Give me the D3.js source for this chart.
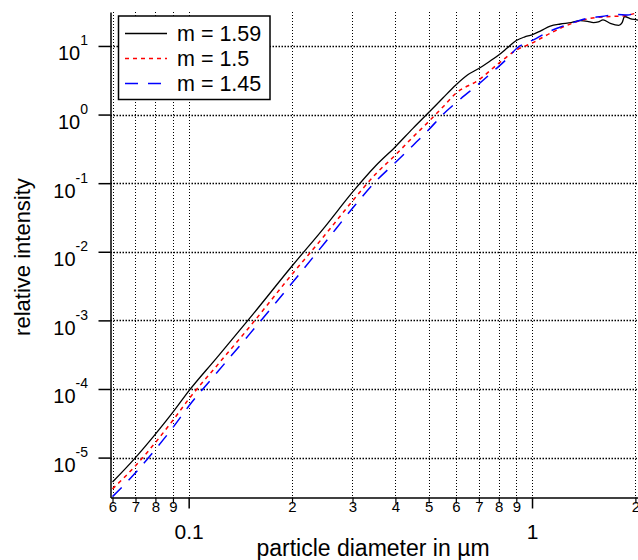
<!DOCTYPE html>
<html lang="en">
<head>
<meta charset="UTF-8">
<title>Relative intensity vs particle diameter</title>
<style>
    body {
        margin: 0;
        padding: 0;
        background: #fff;
    }
    svg {
        display: block;
        font-family: Arial, "Liberation Sans", sans-serif;
    }
</style>
</head>
<body>
<div id="chart"></div>
<script src="https://d3js.org/d3.v7.min.js"></script>
<script>
    // particle diameter (um) and relative intensity
    const diam159 = [0.06, 0.07, 0.08, 0.09, 0.1, 0.12, 0.15, 0.2, 0.25, 0.3, 0.35, 0.4, 0.45, 0.5, 0.55, 0.6, 0.65, 0.7, 0.75, 0.8, 0.85, 0.9, 0.95, 1.0, 1.06, 1.13, 1.21, 1.3, 1.38, 1.45, 1.51, 1.56, 1.61, 1.69, 1.79, 1.83, 1.86, 1.93, 2.02, 2.07];
    const int159 = [4.4e-6, 1.0e-5, 2.2e-5, 4.6e-5, 9.3e-5, 2.75e-4, 1.05e-3, 6.2e-3, 2.35e-2, 7.4e-2, 0.178, 0.34, 0.63, 1.07, 1.74, 2.7, 3.8, 4.7, 5.9, 7.4, 9.5, 12.0, 13.5, 14.5, 16.6, 19.5, 20.9, 21.9, 23.4, 22.9, 21.9, 22.4, 24.0, 21.4, 20.0, 21.9, 26.9, 25.1, 24.0, 23.4];

    const diam150 = [0.06, 0.07, 0.08, 0.09, 0.1, 0.12, 0.15, 0.2, 0.25, 0.3, 0.35, 0.4, 0.45, 0.5, 0.55, 0.6, 0.7, 0.8, 0.9, 1.0, 1.13, 1.31, 1.47, 1.65, 1.84, 2.07];
    const int150 = [3.5e-6, 7.6e-6, 1.66e-5, 3.5e-5, 7.1e-5, 2.1e-4, 7.9e-4, 4.7e-3, 1.78e-2, 5.5e-2, 0.135, 0.257, 0.47, 0.79, 1.29, 2.04, 3.2, 5.6, 8.7, 11.0, 15.3, 21.4, 25.1, 26.7, 27.4, 31.6];

    const diam145 = [0.06, 0.07, 0.08, 0.09, 0.1, 0.12, 0.15, 0.2, 0.25, 0.3, 0.35, 0.4, 0.45, 0.5, 0.55, 0.62, 0.7, 0.78, 0.84, 0.9, 1.03, 1.1, 1.2, 1.3, 1.44, 1.6, 1.76, 1.9, 2.0, 2.07];
    const int145 = [2.7e-6, 6.0e-6, 1.32e-5, 2.75e-5, 5.6e-5, 1.66e-4, 6.2e-4, 3.5e-3, 1.38e-2, 4.3e-2, 0.105, 0.2, 0.355, 0.6, 1.0, 1.7, 2.8, 4.5, 6.3, 9.1, 12.9, 15.5, 18.6, 21.4, 25.1, 26.9, 28.8, 28.2, 30.9, 33.9];

    const seriesNames = ['m = 1.59', 'm = 1.5', 'm = 1.45'];
    const seriesColors = ['#000000', '#ff0000', '#0000ff'];
    const seriesDash = ['none', '4,4', '13,10'];

    // axis ticks
    const xMinorTicks = [0.06, 0.07, 0.08, 0.09, 0.2, 0.3, 0.4, 0.5, 0.6, 0.7, 0.8, 0.9, 2];
    const xMinorLabels = ['6', '7', '8', '9', '2', '3', '4', '5', '6', '7', '8', '9', '2'];
    const xMajorTicks = [0.1, 1];
    const xMajorLabels = ['0.1', '1'];
    const yTicks = [1e-5, 1e-4, 1e-3, 1e-2, 1e-1, 1e0, 1e1];
    const yExponents = ['-5', '-4', '-3', '-2', '-1', '0', '1'];

    const width = 638, height = 560;
    const plot = { left: 110.5, right: 640, top: 12, bottom: 497.5 };
    const font = 'Arial, "Liberation Sans", sans-serif';

    const svg = d3.select('#chart').append('svg')
        .attr('width', width)
        .attr('height', height);

    const x = d3.scaleLog()
        .domain([0.0592, 2.063])
        .range([plot.left, plot.right]);

    const y = d3.scaleLog()
        .domain([2.62e-6, 31.26])
        .range([plot.bottom, plot.top]);

    // snap grid lines to the pixel grid so the dots stay crisp
    const px = v => Math.round(v) + 0.5;

    // dotted grid
    const grid = svg.append('g').attr('class', 'grid');
    grid.selectAll('.vgrid')
        .data(xMinorTicks.concat(xMajorTicks))
        .join('line')
        .attr('class', 'vgrid')
        .attr('x1', d => px(x(d))).attr('x2', d => px(x(d)))
        .attr('y1', plot.top).attr('y2', plot.bottom)
        .attr('stroke', '#000')
        .attr('stroke-width', 1)
        .attr('stroke-dasharray', '1,2');
    grid.selectAll('.hgrid')
        .data(yTicks)
        .join('line')
        .attr('class', 'hgrid')
        .attr('x1', plot.left).attr('x2', plot.right)
        .attr('y1', d => px(y(d))).attr('y2', d => px(y(d)))
        .attr('stroke', '#000')
        .attr('stroke-width', 1.5)
        .attr('stroke-dasharray', '1.5,1.5');

    // curves
    svg.append('clipPath').attr('id', 'clip')
        .append('rect')
        .attr('x', plot.left).attr('y', 0)
        .attr('width', plot.right - plot.left).attr('height', plot.bottom);

    const line = d3.line()
        .x(d => x(d[0]))
        .y(d => y(d[1]))
        .curve(d3.curveMonotoneX);

    const series = [
        d3.zip(diam159, int159),
        d3.zip(diam150, int150),
        d3.zip(diam145, int145)
    ];

    svg.append('g')
        .attr('clip-path', 'url(#clip)')
        .selectAll('path')
        .data(series)
        .join('path')
        .attr('fill', 'none')
        .attr('stroke', (d, i) => seriesColors[i])
        .attr('stroke-width', (d, i) => i === 0 ? 1.3 : 1.5)
        .attr('stroke-dasharray', (d, i) => seriesDash[i])
        .attr('d', line);

    // x axis: minor ticks with small labels, decades with big labels
    const xAxisMinor = svg.append('g')
        .attr('transform', `translate(0,${plot.bottom})`)
        .call(d3.axisBottom(x)
            .tickValues(xMinorTicks)
            .tickSize(6)
            .tickSizeOuter(0)
            .tickPadding(-2)
            .tickFormat((d, i) => xMinorLabels[i]));
    xAxisMinor.select('.domain').attr('stroke-width', 1.5);
    xAxisMinor.selectAll('.tick line').attr('stroke-width', 1.2);
    xAxisMinor.selectAll('.tick text')
        .attr('font-size', 15)
        .attr('font-family', font)
        .attr('fill', '#000');

    const xAxisMajor = svg.append('g')
        .attr('transform', `translate(0,${plot.bottom})`)
        .call(d3.axisBottom(x)
            .tickValues(xMajorTicks)
            .tickSize(11)
            .tickSizeOuter(0)
            .tickPadding(15.5)
            .tickFormat((d, i) => xMajorLabels[i]));
    xAxisMajor.select('.domain').remove();
    xAxisMajor.selectAll('.tick line').attr('stroke-width', 1.5);
    xAxisMajor.selectAll('.tick text')
        .attr('font-size', 21)
        .attr('font-family', font)
        .attr('fill', '#000');

    // y axis with 10^n labels
    const yAxis = svg.append('g')
        .attr('transform', `translate(${plot.left},0)`)
        .call(d3.axisLeft(y)
            .tickValues(yTicks)
            .tickSize(12)
            .tickSizeOuter(0)
            .tickFormat(''));
    yAxis.select('.domain').attr('stroke-width', 1.5);
    yAxis.selectAll('.tick line').attr('stroke-width', 1.5);

    const yLabels = svg.append('g')
        .selectAll('text')
        .data(yTicks)
        .join('text')
        .attr('x', 88)
        .attr('y', d => y(d) + 14.5)
        .attr('text-anchor', 'end')
        .attr('fill', '#000');
    yLabels.append('tspan')
        .attr('font-size', 20)
        .text('10');
    yLabels.append('tspan')
        .attr('font-size', 14)
        .attr('dy', -15)
        .text((d, i) => yExponents[i]);

    // axis titles
    svg.append('text')
        .attr('x', 373)
        .attr('y', 556)
        .attr('text-anchor', 'middle')
        .attr('font-size', 23)
        .text('particle diameter in µm');

    svg.append('text')
        .attr('transform', 'translate(30,257) rotate(-90)')
        .attr('text-anchor', 'middle')
        .attr('font-size', 22)
        .text('relative intensity');

    // legend
    const legend = svg.append('g').attr('class', 'legend');
    legend.append('rect')
        .attr('x', 118.5).attr('y', 16)
        .attr('width', 151.5).attr('height', 83.5)
        .attr('fill', '#fff')
        .attr('stroke', '#000')
        .attr('stroke-width', 1.5);

    const rows = legend.selectAll('.row')
        .data(seriesNames)
        .join('g')
        .attr('class', 'row')
        .attr('transform', (d, i) => `translate(0,${33.5 + i * 25})`);
    rows.append('line')
        .attr('x1', 125).attr('x2', 167)
        .attr('stroke', (d, i) => seriesColors[i])
        .attr('stroke-width', (d, i) => i === 0 ? 1.3 : 1.5)
        .attr('stroke-dasharray', (d, i) => seriesDash[i]);
    rows.append('text')
        .attr('x', 177)
        .attr('y', 7.5)
        .attr('font-size', 21.5)
        .text(d => d);
</script>
</body>
</html>
